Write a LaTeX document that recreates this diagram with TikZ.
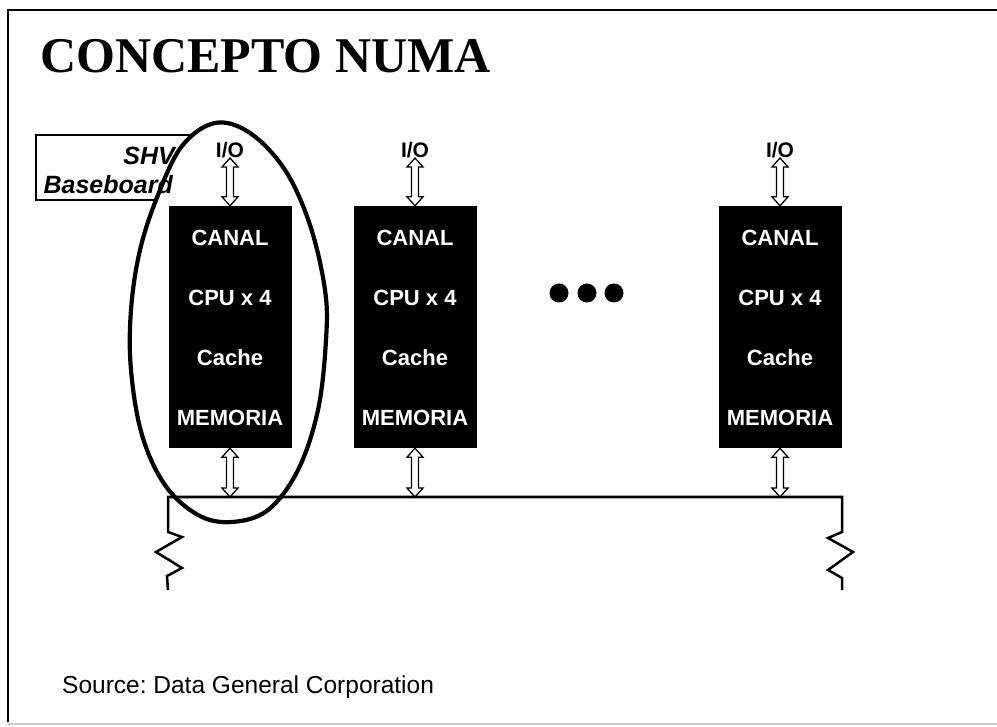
\documentclass[tikz,border=0pt]{standalone}
\usepackage{fontspec}
\setmainfont{Liberation Sans}
\newfontfamily\titlefont{Liberation Serif}
\usetikzlibrary{calc}
\frenchspacing
\tikzset{
  x=1pt, y=-1pt,
  cpubox/.style={rectangle, fill=black, minimum width=123pt, minimum height=242pt, inner sep=0pt},
  boxtxt/.style={text=white, font=\fontsize{22}{22}\selectfont\bfseries, inner sep=0pt},
  iolbl/.style={font=\fontsize{21}{21}\selectfont\bfseries, inner sep=0pt},
  callouttxt/.style={anchor=base east, inner sep=0pt, font=\fontsize{25}{25}\selectfont\bfseries\itshape},
  dblarr/.style={draw=black, fill=white, line width=1.3pt, line join=miter,
    to path={let \p1=(\tikztostart), \p2=(\tikztotarget) in
      (\x1,\y1) -- (\x1+8pt,\y1-9pt) -- (\x1+3.5pt,\y1-9pt) -- (\x1+3.5pt,\y2+9pt)
      -- (\x1+8pt,\y2+9pt) -- (\x1,\y2) -- (\x1-8pt,\y2+9pt) -- (\x1-3.5pt,\y2+9pt)
      -- (\x1-3.5pt,\y1-9pt) -- (\x1-8pt,\y1-9pt) -- cycle}},
  busline/.style={line width=2.5pt, line join=miter},
  dotstyle/.style={circle, fill=black, minimum size=19pt, inner sep=0pt},
  grpline/.style={draw=black, fill=white, line width=4.2pt}
}
\begin{document}
\begin{tikzpicture}
\useasboundingbox (0,0) rectangle (997,727);
% frame
\draw[line width=2.5pt] (8,722) -- (8,10) -- (997,10);
\draw[gray!40, line width=1.5pt] (8,724) -- (997,724);
% title
\node[anchor=base west, inner sep=0pt, font=\titlefont\fontsize{50}{50}\selectfont\bfseries] (title) at (40,73) {CONCEPTO NUMA};
% callout
\draw[line width=1.5pt, fill=white] (36,135) rectangle (210,200);
% group outline (hand-drawn egg shape)
\path[grpline] plot[smooth cycle, tension=0.6] coordinates {
  (215,123) (250,133) (285,170) (310,225) (325,290) (326,340) (318,410)
  (298,470) (268,510) (232,522) (198,515) (165,485) (142,435) (131,370)
  (131,310) (140,250) (158,195) (182,146)};
\node[callouttxt] (shv) at (175,165) {SHV};
\node[callouttxt] (bb) at (173,194) {Baseboard};
% boxes
\foreach \i/\xx in {1/230, 2/415, 3/780} {
  \node[cpubox] (b\i) at (\xx,327) {};
  \node[boxtxt] (c\i) at (\xx,238) {CANAL};
  \node[boxtxt] (p\i) at (\xx,298) {CPU x 4};
  \node[boxtxt] (k\i) at (\xx,358) {Cache};
  \node[boxtxt] (m\i) at (\xx,418) {MEMORIA};
  \node[iolbl] (io\i) at (\xx,150) {I/O};
  \coordinate (bus\i) at (\xx,497);
  \draw[dblarr] (io\i.south) to (b\i.north);
}
% bus
\coordinate (busL) at (168,497);
\coordinate (busR) at (842,497);
\draw[busline] (168,590) -- (167,576) -- (182,568) -- (156,552) -- (182,537) -- (168,532) -- (busL) -- (busR)
  -- (842,532) -- (828,538) -- (853,552) -- (828,570) -- (842,578) -- (842,590);
\foreach \i in {1,2,3} {
  \draw[dblarr] (b\i.south) to (bus\i);
}
% dots
\node[dotstyle] (d1) at (559,293) {};
\node[dotstyle] (d2) at (587,293) {};
\node[dotstyle] (d3) at (614,293) {};
% source
\node[anchor=base west, inner sep=0pt, font=\fontsize{24.5}{24.5}\selectfont] (src) at (62,693) {Source: Data General Corporation};
\end{tikzpicture}
\end{document}
